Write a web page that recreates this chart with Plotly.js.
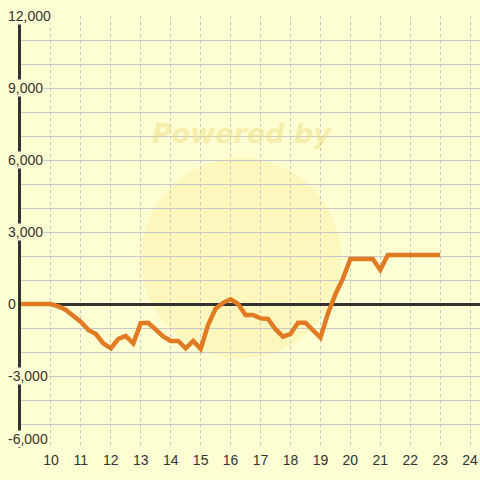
<!DOCTYPE html>
<html>
<head>
<meta charset="utf-8">
<script src="https://cdn.plot.ly/plotly-3.0.1.min.js"></script>
<style>
  html, body { margin: 0; padding: 0; background: #fdfed2; }
  #chart { width: 480px; height: 480px; }
</style>
</head>
<body>
<div id="chart"></div>
<script>
// Data
const xValues = [9, 9.25, 9.5, 9.75, 10, 10.25, 10.5, 10.75, 11, 11.25, 11.5, 11.75,
  12, 12.25, 12.5, 12.75, 13, 13.25, 13.5, 13.75, 14, 14.25, 14.5, 14.75,
  15, 15.25, 15.5, 15.75, 16, 16.25, 16.5, 16.75, 17, 17.25, 17.5, 17.75,
  18, 18.25, 18.5, 18.75, 19, 19.25, 19.5, 19.75, 20, 20.25, 20.5, 20.75,
  21, 21.25, 21.5, 21.75, 22, 22.25, 22.5, 22.75, 23];
const yValues = [0, 0, 0, 0, 0, -100, -250, -500, -750, -1080, -1250, -1640,
  -1850, -1450, -1330, -1640, -800, -780, -1050, -1350, -1540, -1540, -1850, -1540,
  -1870, -870, -200, 50, 200, 0, -460, -460, -600, -620, -1050, -1360,
  -1250, -780, -780, -1080, -1400, -400, 400, 1050, 1875, 1875, 1875, 1875,
  1420, 2040, 2040, 2040, 2040, 2040, 2040, 2040, 2040];
const xTickVals = [10, 11, 12, 13, 14, 15, 16, 17, 18, 19, 20, 21, 22, 23, 24];
const xTickText = ['10', '11', '12', '13', '14', '15', '16', '17', '18', '19', '20', '21', '22', '23', '24'];
const yTickVals = [12000, 9000, 6000, 3000, 0, -3000, -6000];
const yTickText = ['12,000', '9,000', '6,000', '3,000', '0', '-3,000', '-6,000'];

const bg = '#fdfed2';
const textColor = '#333333';
const yMin = -6000;

const yLabelAnnotations = yTickVals.map((v, i) => ({
  xref: 'paper', yref: 'y',
  x: -14 / 459, y: v,
  xanchor: 'left', yanchor: v === yMin ? 'bottom' : 'middle',
  text: yTickText[i],
  showarrow: false,
  bgcolor: bg,
  borderpad: 0,
  font: { family: 'Liberation Sans, Arial, sans-serif', size: 14, color: textColor }
}));

const watermark = {
  xref: 'paper', yref: 'paper',
  x: (242 - 21) / 459, y: (448 - 133) / 432,
  xanchor: 'center', yanchor: 'middle',
  text: '<b><i>Powered by</i></b>',
  showarrow: false,
  font: { family: 'DejaVu Sans, sans-serif', size: 27, color: 'rgba(238,222,130,0.5)' }
};

const trace = {
  type: 'scatter',
  mode: 'lines',
  x: xValues,
  y: yValues,
  line: { color: '#e07b24', width: 4.5 },
  hoverinfo: 'skip'
};

const layout = {
  width: 480, height: 480,
  margin: { l: 21, r: 0, t: 16, b: 32 },
  paper_bgcolor: bg,
  plot_bgcolor: bg,
  showlegend: false,
  font: { family: 'Liberation Sans, Arial, sans-serif', size: 14, color: textColor },
  xaxis: {
    range: [9, 24.33],
    tickvals: xTickVals,
    ticktext: xTickText,
    showgrid: true,
    gridcolor: '#c4c4c4',
    gridwidth: 1,
    griddash: '3px,3px',
    zeroline: false,
    showline: false,
    ticks: '',
    ticklabelstandoff: 2,
    tickfont: { size: 14, color: textColor }
  },
  yaxis: {
    range: [-6000, 12000],
    dtick: 1000,
    tick0: 0,
    showticklabels: false,
    showgrid: true,
    gridcolor: '#c8c8c8',
    gridwidth: 1,
    zeroline: true,
    zerolinecolor: '#333333',
    zerolinewidth: 3,
    showline: true,
    linecolor: '#333333',
    linewidth: 3,
    ticks: ''
  },
  shapes: [{
    type: 'circle', xref: 'paper', yref: 'paper', layer: 'below',
    x0: (141 - 21) / 459, x1: (341 - 21) / 459,
    y0: (448 - 358) / 432, y1: (448 - 158) / 432,
    fillcolor: 'rgba(250,225,110,0.22)',
    line: { width: 0 }
  }],
  annotations: [watermark].concat(yLabelAnnotations)
};

Plotly.newPlot('chart', [trace], layout, { staticPlot: true, displayModeBar: false });
</script>
</body>
</html>
